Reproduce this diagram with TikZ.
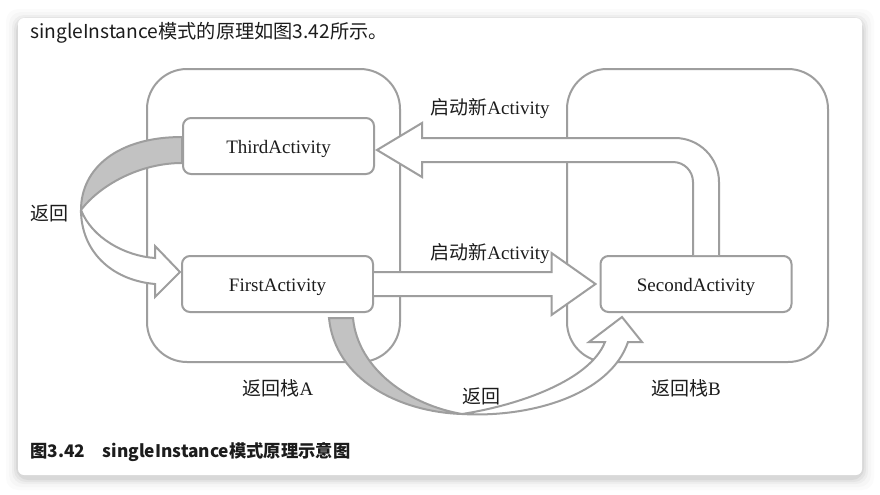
\documentclass[tikz,border=0pt]{standalone}
\usepackage{fontspec}
\setmainfont{Liberation Serif}
\newfontfamily\cjk{Noto Sans CJK SC}
\usepackage{tikz}
\usetikzlibrary{positioning,calc}

\definecolor{linegray}{RGB}{158,158,158}
\definecolor{ribbongray}{RGB}{194,194,194}
\definecolor{inktext}{RGB}{28,28,28}

\tikzset{
  stack/.style={draw=linegray, line width=1pt, rounded corners=20pt},
  actbox/.style={draw=linegray, line width=1pt, rounded corners=4pt, fill=white,
    minimum width=95.5pt, minimum height=28pt, inner sep=0pt,
    text height=8pt, text depth=0.6pt,
    font=\fontsize{9.5}{11}\selectfont, text=inktext},
  hollow/.style={draw=linegray, line width=1pt, fill=white, line join=miter},
  backside/.style={draw=linegray, line width=1pt, fill=ribbongray},
  tag/.style={font=\fontsize{9.5}{11}\selectfont, inner sep=0pt, text=inktext},
}

\begin{document}
\begin{tikzpicture}[x=0.5pt, y=-0.5pt]
    \useasboundingbox (0,0) rectangle (880,494);
    % card and its shadow
    \fill[white] (0,0) rectangle (880,494);
    \foreach \s/\o in {12/0.015, 9/0.02, 6/0.03, 4/0.04, 2/0.05}
      \fill[black, opacity=\o, rounded corners=6pt] (18-\s,18-\s+3) rectangle (862+\s,475+\s+3);
    \fill[white, rounded corners=3pt] (18,18) rectangle (862,475);

    \node[anchor=west, inner sep=0pt, text=inktext, font=\cjk\fontsize{9.6}{11}\selectfont] (intro) at (30,33) {singleInstance模式的原理如图3.42所示。};
    \node[anchor=west, inner sep=0pt, text=inktext, font=\cjk\bfseries\fontsize{8.65}{11}\selectfont] (caption) at (30,452) {图3.42\quad singleInstance模式原理示意图};

    % the two back stacks
    \node[stack, minimum width=126.5pt, minimum height=146.5pt] (stackA) at (273.5,215.5) {};
    \node[stack, minimum width=130.5pt, minimum height=146.5pt] (stackB) at (697.5,215.5) {};

    % activities
    \node[actbox] (third) at (278.5,146) {ThirdActivity};
    \node[actbox] (first) at (277.5,284) {FirstActivity};
    \node[actbox] (second) at (696,284) {SecondActivity};

    % SecondActivity -> ThirdActivity
    \draw[hollow] ($(second.north)+(-3,0)$) [rounded corners=10pt] -- (693,162) [sharp corners] -- (422,162) -- (422,177) -- (377,150) -- (422,123) -- (422,138) [rounded corners=22pt] -- (719,138) [sharp corners] -- ($(second.north)+(23,0)$);
    % FirstActivity -> SecondActivity
    \draw[hollow] ($(first.east)+(0,-12)$) -- ($(second.west)+(-48,-12)$) -- ($(second.west)+(-48,-31)$) -- ($(second.west)+(-4,0)$) -- ($(second.west)+(-48,31)$) -- ($(second.west)+(-48,12)$) -- ($(first.east)+(0,12)$);

    % back: ThirdActivity -> FirstActivity
    \filldraw[backside] ($(third.west)+(0,-9)$) .. controls (118,137) and (81,168) .. (81,210) .. controls (100,185) and (140,163) .. ($(third.west)+(0,17)$) -- cycle;
    \draw[hollow] (81,210) .. controls (92,238) and (125,256) .. (155,258) -- (155,246) -- (180,272) -- (155,297) -- (155,284) .. controls (110,280) and (81,250) .. (81,210);

    % back: FirstActivity -> SecondActivity
    \filldraw[backside] (329,318) .. controls (335,380) and (400,412) .. (462,414) .. controls (410,405) and (358,370) .. (353,318) -- cycle;
    \draw[hollow] (462,414) .. controls (520,405) and (590,380) .. (605,342) -- (589,342) -- (622,317) -- (642,342) -- (628,342) .. controls (610,395) and (530,418) .. (462,414);

    % labels
    \node[tag] (launchUp) at (490,109) {{\cjk 启动新}Activity};
    \node[tag] (launchDown) at (490,254) {{\cjk 启动新}Activity};
    \node[tag] (backLeft) at (50,213) {\cjk 返回};
    \node[tag] (backDown) at (481,396) {\cjk 返回};
    \node[tag] (nameA) at (278,388) {{\cjk 返回栈}A};
    \node[tag] (nameB) at (686,388) {{\cjk 返回栈}B};
\end{tikzpicture}
\end{document}
